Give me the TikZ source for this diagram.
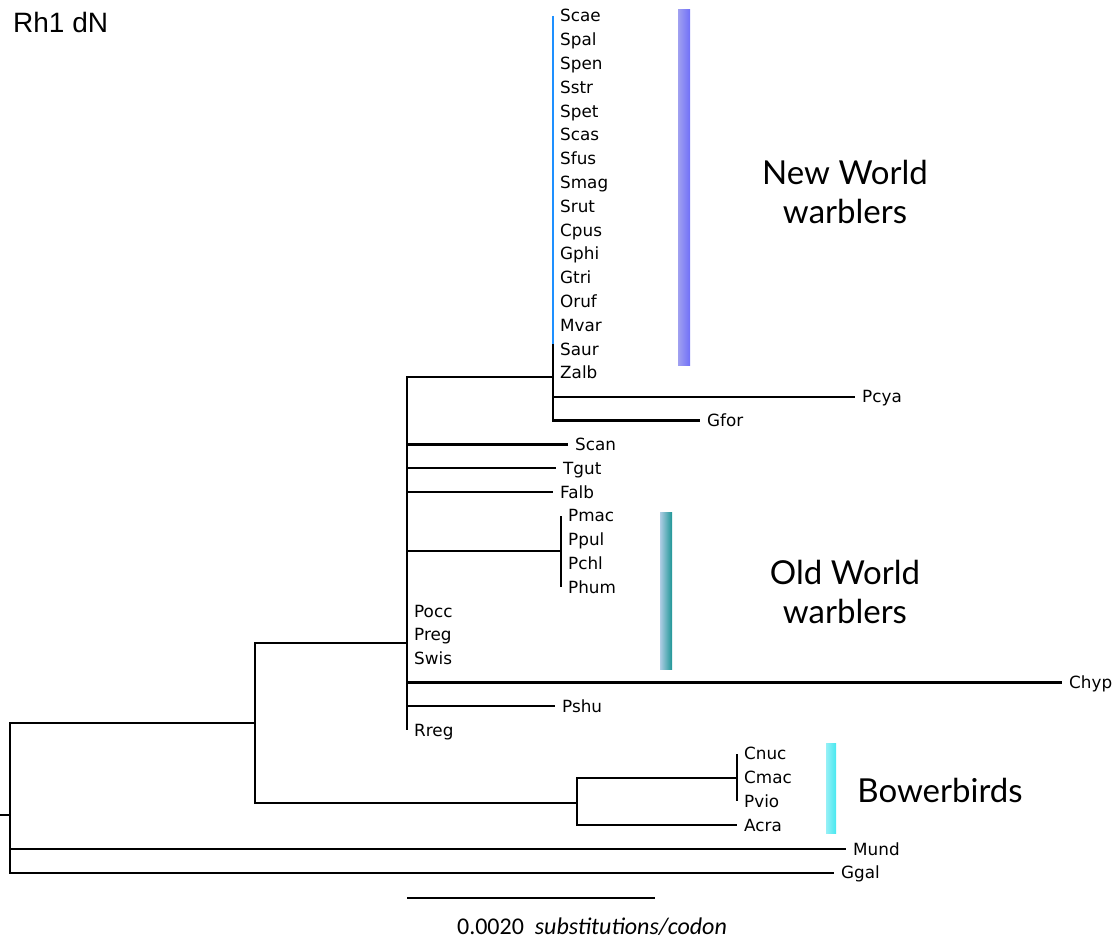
\documentclass[tikz,border=0pt]{standalone}
\usepackage{fontspec}
\usepackage{tikz}
\usetikzlibrary{calc,positioning}
\usepackage{xcolor}
\newfontfamily\leaffont{DejaVu Sans}
\newfontfamily\cladefont{Lato}
\newfontfamily\rhfont{Liberation Sans}
\newfontfamily\sbfont{Carlito}
\newcommand{\rowgap}{23.8}
\definecolor{nwblue}{RGB}{30,144,255}
\definecolor{nwbarl}{RGB}{160,160,240}
\definecolor{nwbarr}{RGB}{112,112,248}
\definecolor{owbarl}{RGB}{175,205,228}
\definecolor{owbarr}{RGB}{30,150,150}
\definecolor{bwbarl}{RGB}{150,240,246}
\definecolor{bwbarr}{RGB}{70,232,240}
\tikzset{
    brsty/.style={draw=black,line width=2.5pt},
    nwsty/.style={draw=nwblue,line width=2.8pt},
    leafsty/.style={anchor=west,inner xsep=7pt,inner ysep=0pt,text height=12pt,text depth=0pt,font=\leaffont\fontsize{16.8}{16.8}\selectfont},
    cladesty/.style={align=center,inner sep=0pt,font=\cladefont\fontsize{33}{39}\selectfont},
    rhsty/.style={anchor=west,inner sep=0pt,font=\rhfont\fontsize{28}{28}\selectfont},
    sbsty/.style={draw=black,line width=1.4pt},
    sbtsty/.style={inner sep=0pt,font=\sbfont\fontsize{24}{24}\selectfont},
}

\begin{document}
\begin{tikzpicture}[x=1pt,y=-1pt]
\useasboundingbox (0,0) rectangle (1120,941);

\shade[left color=nwbarl,right color=nwbarr] (678,10) rectangle (690,366);
\shade[left color=owbarl,right color=owbarr] (660,512) rectangle (672,669);
\shade[left color=bwbarl,right color=bwbarr] (826,743) rectangle (836,833);

\foreach \tx/\xe [count=\i from 0] in {Scae/553,Spal/553,Spen/553,Sstr/553,Spet/553,Scas/553,Sfus/553,Smag/553,Srut/553,Cpus/553,Gphi/553,Gtri/553,Oruf/553,Mvar/553,Saur/553,Zalb/553,Pcya/855,Gfor/700,Scan/568,Tgut/556,Falb/553,Pmac/561,Ppul/561,Pchl/561,Phum/561,Pocc/407,Preg/407,Swis/407,Chyp/1062,Pshu/555,Rreg/407,Cnuc/737,Cmac/737,Pvio/737,Acra/737,Mund/846,Ggal/834}
    \node[leafsty] (\tx) at (\xe,{16+\rowgap*\i}) {\tx};

\coordinate (rootstub) at (0,815);
\coordinate (root) at (10,815);
\coordinate (crown) at (255,723);
\coordinate (ingrp) at (407,643);
\coordinate (nww) at (553,377);
\coordinate (nwend) at (553,344);
\coordinate (phyl) at (561,551);
\coordinate (bow) at (577,803);
\coordinate (chla) at (737,778);

\draw[brsty] (rootstub) -- (root);
\draw[brsty] (root) |- (crown);
\draw[brsty] (root) |- (Mund.west);
\draw[brsty] (root) |- (Ggal.west);
\draw[brsty] (crown) |- (ingrp);
\draw[brsty] (crown) |- (bow);
\foreach \tx in {nww,Scan.west,Tgut.west,Falb.west,phyl,Chyp.west,Pshu.west,Rreg.west}
    \draw[brsty] (ingrp) |- (\tx);
\foreach \tx in {Scae,Zalb,Pcya,Gfor}
    \draw[brsty] (nww) |- (\tx.west);
\draw[nwsty] (Scae.west) -- (nwend);
\foreach \tx in {Pmac,Phum}
    \draw[brsty] (phyl) |- (\tx.west);
\draw[brsty] (bow) |- (chla);
\draw[brsty] (bow) |- (Acra.west);
\foreach \tx in {Cnuc,Pvio}
    \draw[brsty] (chla) |- (\tx.west);

\node[cladesty] (nwlab) at (845,192) {New World\\warblers};
\node[cladesty] (owlab) at (845,592) {Old World\\warblers};
\node[cladesty] (bwlab) at (940,790) {Bowerbirds};
\node[rhsty] (title) at (13,22) {Rh1 dN};

\coordinate (sbl) at (407,898);
\coordinate (sbr) at (655,898);
\draw[sbsty] (sbl) -- (sbr);
\node[sbtsty] (sblab) at (592,927) {0.0020\ \ \textit{substitutions/codon}};
\end{tikzpicture}
\end{document}
